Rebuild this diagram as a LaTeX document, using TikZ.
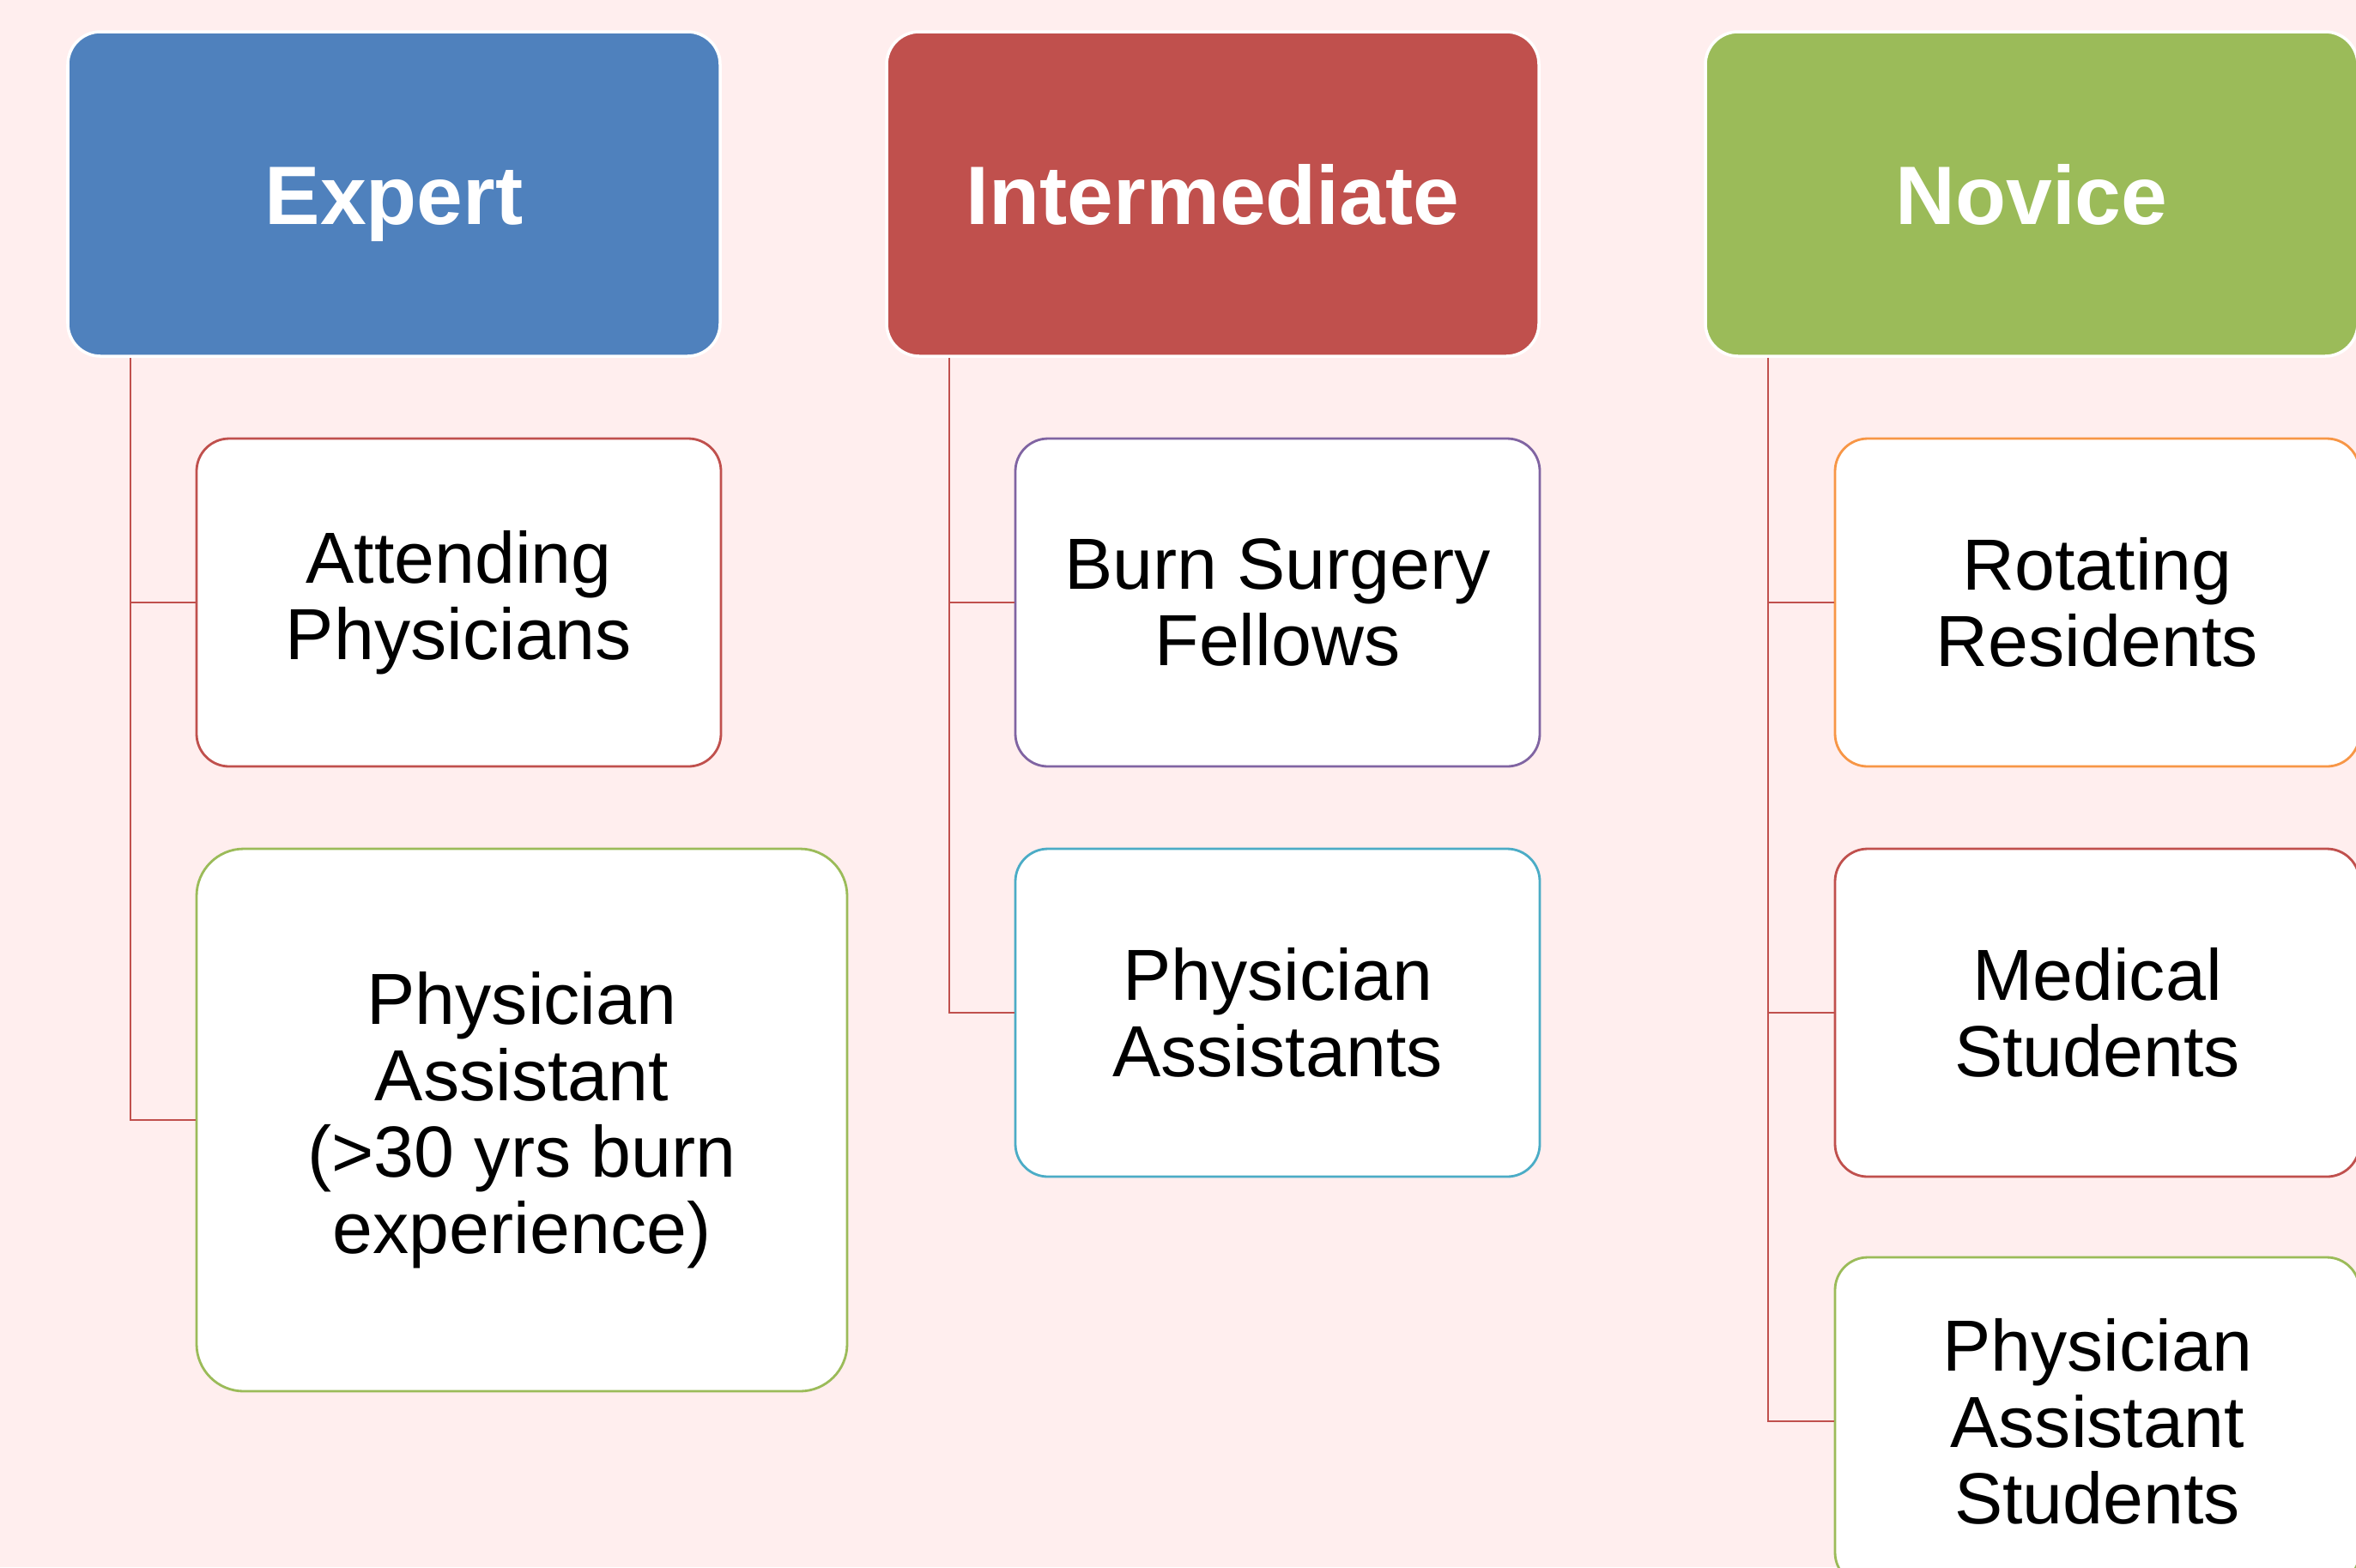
\documentclass[tikz,border=0pt]{standalone}
\usepackage{fontspec}
\setmainfont{Liberation Sans}
\definecolor{bgpink}{HTML}{FFEEEE}
\definecolor{hblue}{HTML}{4F81BD}
\definecolor{hred}{HTML}{C0504D}
\definecolor{hgreen}{HTML}{9BBB59}
\definecolor{hpurple}{HTML}{8064A2}
\definecolor{hcyan}{HTML}{4BACC6}
\definecolor{horange}{HTML}{F79646}
\begin{document}
\begin{tikzpicture}[head/.style={draw=white,line width=1pt,rounded corners=3.8mm,
minimum width=7.6cm,minimum height=3.78cm,inner sep=0pt,text=white,
text height=20pt,text depth=0pt,font=\fontsize{27.5}{30}\selectfont\bfseries},
item/.style={draw=#1,fill=white,line width=0.8pt,rounded corners=3.8mm,
minimum width=6.11cm,minimum height=3.82cm,inner sep=0pt,align=center,
font=\fontsize{24}{25.3}\selectfont},
link/.style={draw=hred,line width=0.7pt}]
	%Hintergrund
	\fill [bgpink] (0,0) rectangle (27.45,-18.26);
	\useasboundingbox (0,0) rectangle (27.45,-18.26);
	%Kopfboxen
	\node [head,fill=hblue] (expert) at (4.59,-2.26) {Expert};
	\node [head,fill=hred] (inter) at (14.13,-2.26) {Intermediate};
	\node [head,fill=hgreen] (novice) at (23.67,-2.26) {Novice};
	%Expert
	\node [item=hred] (attend) at (5.345,-7.02) {Attending\\Physicians};
	\node [item=hgreen,minimum width=7.58cm,minimum height=6.32cm,rounded corners=5.5mm]
		(paexp) at (6.08,-13.05) {Physician\\Assistant\\(>30 yrs burn\\experience)};
	%Intermediate
	\node [item=hpurple] (fellow) at (14.885,-7.02) {Burn Surgery\\Fellows};
	\node [item=hcyan] (painter) at (14.885,-11.80) {Physician\\Assistants};
	%Novice
	\node [item=horange] (resid) at (24.435,-7.02) {Rotating\\Residents};
	\node [item=hred] (medstud) at (24.435,-11.80) {Medical\\Students};
	\node [item=hgreen] (pastud) at (24.435,-16.56) {Physician\\Assistant\\Students};
	%Stamm
	\coordinate (etrunk) at ([xshift=0.75cm]expert.south west);
	\coordinate (itrunk) at ([xshift=0.75cm]inter.south west);
	\coordinate (ntrunk) at ([xshift=0.75cm]novice.south west);
	%Verbindungen
	\draw [link] (etrunk) |- (paexp.west);
	\draw [link] (etrunk |- attend.west) -- (attend.west);
	\draw [link] (itrunk) |- (painter.west);
	\draw [link] (itrunk |- fellow.west) -- (fellow.west);
	\draw [link] (ntrunk) |- (pastud.west);
	\draw [link] (ntrunk |- resid.west) -- (resid.west);
	\draw [link] (ntrunk |- medstud.west) -- (medstud.west);
\end{tikzpicture}
\end{document}
